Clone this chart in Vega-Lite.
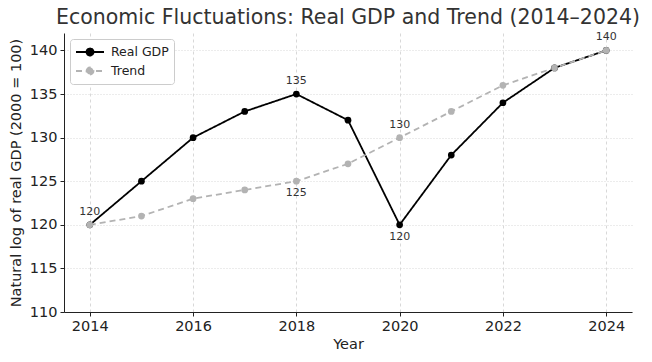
{
  "$schema": "https://vega.github.io/schema/vega-lite/v6.json",
  "width": 568,
  "height": 279,
  "autosize": {"type": "none"},
  "padding": {"left": 64, "top": 33, "right": 20, "bottom": 50},
  "background": "white",
  "config": {
    "font": "DejaVu Sans",
    "view": {"stroke": null},
    "axis": {
      "labelFont": "DejaVu Sans",
      "titleFont": "DejaVu Sans",
      "labelFontSize": 14.5,
      "titleFontSize": 14.5,
      "labelColor": "#222",
      "titleColor": "#222",
      "titleFontWeight": "normal",
      "domainColor": "#222",
      "tickColor": "#222",
      "tickSize": 4,
      "labelPadding": 3
    }
  },
  "title": {
    "text": "Economic Fluctuations: Real GDP and Trend (2014–2024)",
    "fontSize": 20.5,
    "fontWeight": "normal",
    "color": "#333",
    "font": "DejaVu Sans",
    "anchor": "middle",
    "offset": 3
  },
  "datasets": {
    "series": [
      {"Year": 2014, "value": 120, "series": "Real GDP"},
      {"Year": 2015, "value": 125, "series": "Real GDP"},
      {"Year": 2016, "value": 130, "series": "Real GDP"},
      {"Year": 2017, "value": 133, "series": "Real GDP"},
      {"Year": 2018, "value": 135, "series": "Real GDP"},
      {"Year": 2019, "value": 132, "series": "Real GDP"},
      {"Year": 2020, "value": 120, "series": "Real GDP"},
      {"Year": 2021, "value": 128, "series": "Real GDP"},
      {"Year": 2022, "value": 134, "series": "Real GDP"},
      {"Year": 2023, "value": 138, "series": "Real GDP"},
      {"Year": 2024, "value": 140, "series": "Real GDP"},
      {"Year": 2014, "value": 120, "series": "Trend"},
      {"Year": 2015, "value": 121, "series": "Trend"},
      {"Year": 2016, "value": 123, "series": "Trend"},
      {"Year": 2017, "value": 124, "series": "Trend"},
      {"Year": 2018, "value": 125, "series": "Trend"},
      {"Year": 2019, "value": 127, "series": "Trend"},
      {"Year": 2020, "value": 130, "series": "Trend"},
      {"Year": 2021, "value": 133, "series": "Trend"},
      {"Year": 2022, "value": 136, "series": "Trend"},
      {"Year": 2023, "value": 138, "series": "Trend"},
      {"Year": 2024, "value": 140, "series": "Trend"}
    ],
    "notes": [
      {"Year": 2014, "value": 120, "label": "120", "side": "above"},
      {"Year": 2018, "value": 135, "label": "135", "side": "above"},
      {"Year": 2018, "value": 125, "label": "125", "side": "below"},
      {"Year": 2020, "value": 130, "label": "130", "side": "above"},
      {"Year": 2020, "value": 120, "label": "120", "side": "below"},
      {"Year": 2024, "value": 140, "label": "140", "side": "above"}
    ]
  },
  "encoding": {
    "x": {
      "field": "Year",
      "type": "quantitative",
      "scale": {"domain": [2013.5, 2024.5], "nice": false, "zero": false},
      "axis": {
        "values": [2014, 2016, 2018, 2020, 2022, 2024],
        "format": "d",
        "title": "Year",
        "grid": true,
        "gridColor": "#d8d8d8",
        "gridDash": [3, 3],
        "titlePadding": 5
      }
    },
    "y": {
      "field": "value",
      "type": "quantitative",
      "scale": {"domain": [110, 142], "nice": false, "zero": false},
      "axis": {
        "values": [110, 115, 120, 125, 130, 135, 140],
        "title": "Natural log of real GDP (2000 = 100)",
        "grid": true,
        "gridColor": "#d8d8d8",
        "gridDash": [1, 2],
        "titlePadding": 6
      }
    }
  },
  "layer": [
    {
      "data": {"name": "series"},
      "mark": {"type": "line", "strokeWidth": 1.8},
      "encoding": {
        "color": {
          "field": "series",
          "type": "nominal",
          "scale": {"domain": ["Real GDP", "Trend"], "range": ["#000000", "#b3b3b3"]},
          "legend": {
            "title": null,
            "orient": "top-left",
            "offset": 6,
            "fillColor": "white",
            "strokeColor": "#cccccc",
            "cornerRadius": 3,
            "padding": 5,
            "labelFontSize": 12.5,
            "labelColor": "#222",
            "labelFont": "DejaVu Sans",
            "symbolType": "M-1,0L3,0M0.5,0A0.5,0.5 0 1,1 1.5,0A0.5,0.5 0 1,1 0.5,0",
            "symbolSize": 196,
            "symbolStrokeWidth": 1.8,
            "rowPadding": 3,
            "labelOffset": 20,
            "encode": {
              "symbols": {"update": {"fill": {"scale": "color", "field": "value"}}}
            }
          }
        },
        "strokeDash": {
          "field": "series",
          "type": "nominal",
          "scale": {"domain": ["Real GDP", "Trend"], "range": [[1, 0], [6, 4]]},
          "legend": null
        }
      }
    },
    {
      "data": {"name": "series"},
      "mark": {"type": "point", "filled": true, "size": 45, "opacity": 1},
      "encoding": {
        "color": {"field": "series", "type": "nominal", "legend": null}
      }
    },
    {
      "data": {"name": "notes"},
      "transform": [{"filter": "datum.side === 'above'"}],
      "mark": {"type": "text", "dy": -13, "fontSize": 11, "color": "#333"},
      "encoding": {"text": {"field": "label"}}
    },
    {
      "data": {"name": "notes"},
      "transform": [{"filter": "datum.side === 'below'"}],
      "mark": {"type": "text", "dy": 12, "fontSize": 11, "color": "#333"},
      "encoding": {"text": {"field": "label"}}
    }
  ]
}
